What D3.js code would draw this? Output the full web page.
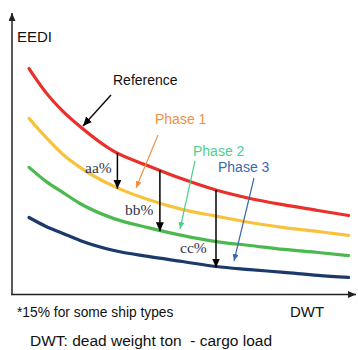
<!DOCTYPE html>
<html>
<head>
<meta charset="utf-8">
<script src="https://cdn.jsdelivr.net/npm/d3@7"></script>
<style>
  body { margin: 0; background: #fff; }
  text { font-family: "Liberation Sans", Arial, sans-serif; white-space: pre; }
</style>
</head>
<body>
<div id="chart"></div>
<script>
const svgWidth = 358;
const svgHeight = 350;

// DWT positions (arbitrary units) and EEDI values
const dwt = [5, 10, 15, 20, 30, 40, 50, 60, 70, 80, 90, 99];
const reference = [80.7, 72.1, 65.4, 60.0, 51.1, 46.0, 41.3, 37.3, 34.3, 32.0, 30.0, 28.2];
const phase1 = [62.9, 56.1, 50.0, 45.4, 38.6, 33.9, 30.4, 28.0, 25.7, 23.9, 22.5, 21.1];
const phase2 = [45.4, 40.4, 36.4, 32.5, 27.1, 23.9, 21.1, 18.9, 17.5, 16.1, 15.0, 13.9];
const phase3 = [27.5, 24.3, 21.8, 19.3, 15.7, 13.6, 11.8, 10.0, 8.9, 7.9, 6.8, 6.1];

const seriesNames = ["Reference", "Phase 1", "Phase 2", "Phase 3"];
const seriesValues = [reference, phase1, phase2, phase3];
const seriesColors = ["#e9302a", "#f9c23c", "#4cb94e", "#1b3a6b"];

// reduction arrows: dwt position, target series, label
const reductionX = [31, 43.5, 60];
const reductionTarget = [1, 2, 3];
const reductionLabels = ["aa%", "bb%", "cc%"];

const x = d3.scaleLinear().domain([0, 100]).range([12, 352]);
const y = d3.scaleLinear().domain([0, 100]).range([294.5, 14.5]);

const svg = d3.select("#chart")
    .append("svg")
    .attr("width", svgWidth)
    .attr("height", svgHeight);

const defs = svg.append("defs");
function addMarker(id, color, w, h) {
    defs.append("marker")
        .attr("id", id)
        .attr("viewBox", `0 0 ${w} ${h}`)
        .attr("refX", w)
        .attr("refY", h / 2)
        .attr("markerWidth", w)
        .attr("markerHeight", h)
        .attr("markerUnits", "userSpaceOnUse")
        .attr("orient", "auto")
        .append("path")
        .attr("d", `M0,0L${w},${h / 2}L0,${h}Z`)
        .attr("fill", color);
}
addMarker("axisHead", "#222", 8, 7);
addMarker("blackHead", "#000", 9, 8);
addMarker("orangeHead", "#f58f3f", 7, 6);
addMarker("greenHead", "#4fcf8d", 7, 6);
addMarker("blueHead", "#3a6aad", 7, 6);

// axes
svg.append("line")
    .attr("x1", x(0)).attr("y1", y(0))
    .attr("x2", x(0)).attr("y2", 13)
    .attr("stroke", "#222").attr("stroke-width", 1.5)
    .attr("marker-end", "url(#axisHead)");
svg.append("line")
    .attr("x1", x(0) - 1).attr("y1", y(0))
    .attr("x2", 356).attr("y2", y(0))
    .attr("stroke", "#222").attr("stroke-width", 1.5)
    .attr("marker-end", "url(#axisHead)");

// curves
const line = d3.line()
    .x((d, i) => x(dwt[i]))
    .y(d => y(d))
    .curve(d3.curveMonotoneX);

svg.append("g")
    .selectAll("path")
    .data(seriesValues)
    .enter().append("path")
    .attr("d", d => line(d))
    .attr("fill", "none")
    .attr("stroke", (d, i) => seriesColors[i])
    .attr("stroke-width", 3.2)
    .attr("stroke-linecap", "round");

// value at a dwt position, linear between read points
function valueAt(values, xv) {
    const i = Math.max(1, d3.bisectLeft(dwt, xv));
    const t = (xv - dwt[i - 1]) / (dwt[i] - dwt[i - 1]);
    return values[i - 1] + t * (values[i] - values[i - 1]);
}

// reduction arrows
reductionX.forEach((xv, k) => {
    svg.append("line")
        .attr("x1", x(xv)).attr("y1", y(valueAt(reference, xv)))
        .attr("x2", x(xv)).attr("y2", y(valueAt(seriesValues[reductionTarget[k]], xv)) + 1)
        .attr("stroke", "#000").attr("stroke-width", 1.5)
        .attr("marker-end", "url(#blackHead)");
});

const pctPos = [[85, 173], [125, 215], [180, 253]];
reductionLabels.forEach((t, k) => {
    svg.append("text")
        .attr("x", pctPos[k][0]).attr("y", pctPos[k][1])
        .style("font-family", "'Liberation Serif', 'Times New Roman', serif")
        .style("font-size", "15.5px")
        .style("fill", "#34344a")
        .text(t);
});

// series labels with pointer arrows
const labelPos = [[113, 85], [155, 124], [193, 156], [218, 172]];
const labelColors = ["#111", "#f58f3f", "#4fcf8d", "#3a6aad"];
const pointers = [[111, 95, 83, 126], [158, 135, 136, 188], [195, 161, 180, 229], [254, 178, 234, 261]];
const pointerHeads = ["blackHead", "orangeHead", "greenHead", "blueHead"];

seriesNames.forEach((name, i) => {
    svg.append("text")
        .attr("x", labelPos[i][0]).attr("y", labelPos[i][1])
        .style("font-size", "14px")
        .style("fill", labelColors[i])
        .text(name);
    const p = pointers[i];
    svg.append("line")
        .attr("x1", p[0]).attr("y1", p[1])
        .attr("x2", p[2]).attr("y2", p[3])
        .attr("stroke", labelColors[i])
        .attr("stroke-width", i === 0 ? 1.5 : 1.2)
        .attr("marker-end", `url(#${pointerHeads[i]})`);
});

// axis titles and notes
svg.append("text")
    .attr("x", 17).attr("y", 42)
    .style("font-size", "15px").style("fill", "#111")
    .text("EEDI");
svg.append("text")
    .attr("x", 290).attr("y", 317)
    .style("font-size", "15px").style("fill", "#111")
    .text("DWT");
svg.append("text")
    .attr("x", 17).attr("y", 317)
    .style("font-size", "13.8px").style("fill", "#111")
    .text("*15% for some ship types");
svg.append("text")
    .attr("x", 30).attr("y", 346)
    .style("font-size", "15.5px").style("fill", "#111")
    .text("DWT: dead weight ton  - cargo load");
</script>
</body>
</html>
